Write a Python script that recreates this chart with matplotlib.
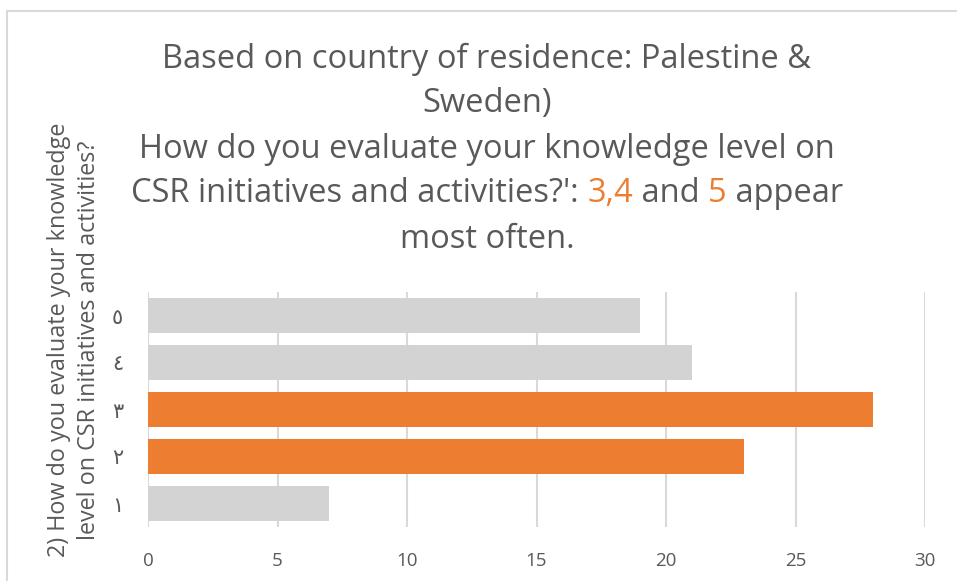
import matplotlib.pyplot as plt
from matplotlib.patches import Rectangle

# survey answers (1-5 scale), counted per rating
levels = ['١', '٢', '٣', '٤', '٥']
counts = [7, 23, 28, 21, 19]
highlight = [False, True, True, False, False]

grey = '#D3D3D3'
orange = '#ED7D31'
text_col = '#595959'

plt.rcParams['font.family'] = ['Open Sans', 'DejaVu Sans']

fig = plt.figure(figsize=(9.57, 5.81), dpi=100)
W, H = 957, 581

# outer chart frame (right and bottom run off the image)
fig.patches.append(Rectangle((7 / W, -0.05), 1.0, 1 - 11 / H + 0.05,
                             transform=fig.transFigure, fill=False,
                             edgecolor='#D9D9D9', linewidth=1.5))

ax = fig.add_axes([148 / W, 1 - 527 / H, (925 - 148) / W, (527 - 292) / H])
colors = [orange if h else grey for h in highlight]
ax.barh(range(len(levels)), counts, height=0.75, color=colors, zorder=2)

ax.set_xlim(0, 30)
ax.set_ylim(-0.5, len(levels) - 0.5)
ax.set_xticks(range(0, 31, 5))
ax.set_yticks(range(len(levels)))
ax.set_yticklabels(levels, family=['DejaVu Sans'], fontsize=15)
ax.grid(axis='x', color='#D9D9D9', linewidth=1.5, zorder=0)
for s in ax.spines.values():
    s.set_visible(False)
ax.tick_params(length=0, colors=text_col)
ax.tick_params(axis='x', pad=18, labelsize=13.5)
ax.tick_params(axis='y', pad=18)

ax.set_ylabel('2) How do you evaluate your knowledge\nlevel on CSR initiatives and activities?',
              fontsize=16.8, color=text_col, linespacing=1.35)
ax.yaxis.set_label_coords((101 - 148) / (925 - 148), (527 - 340) / (527 - 292))

# title, one line at a time; the fourth line has coloured parts
cx = 487 / W
title_lines = [
    [('Based on country of residence: Palestine &', text_col)],
    [('Sweden)', text_col)],
    [('How do you evaluate your knowledge level on', text_col)],
    [("CSR initiatives and activities?': ", text_col), ('3,4', orange),
     (' and ', text_col), ('5', orange), (' appear', text_col)],
    [('most often.', text_col)],
]
line_y = [59, 104, 149, 194, 240]

fig.canvas.draw()
r = fig.canvas.get_renderer()
for parts, y in zip(title_lines, line_y):
    pieces = []
    for s, c in parts:
        t = fig.text(0, 1 - y / H, s, color=c, fontsize=23.5, va='center', ha='left')
        pieces.append(t)
    widths = [t.get_window_extent(r).width for t in pieces]
    x = cx * W - sum(widths) / 2
    for t, w in zip(pieces, widths):
        t.set_x(x / W)
        x += w

fig.savefig('out.png', dpi=100)
